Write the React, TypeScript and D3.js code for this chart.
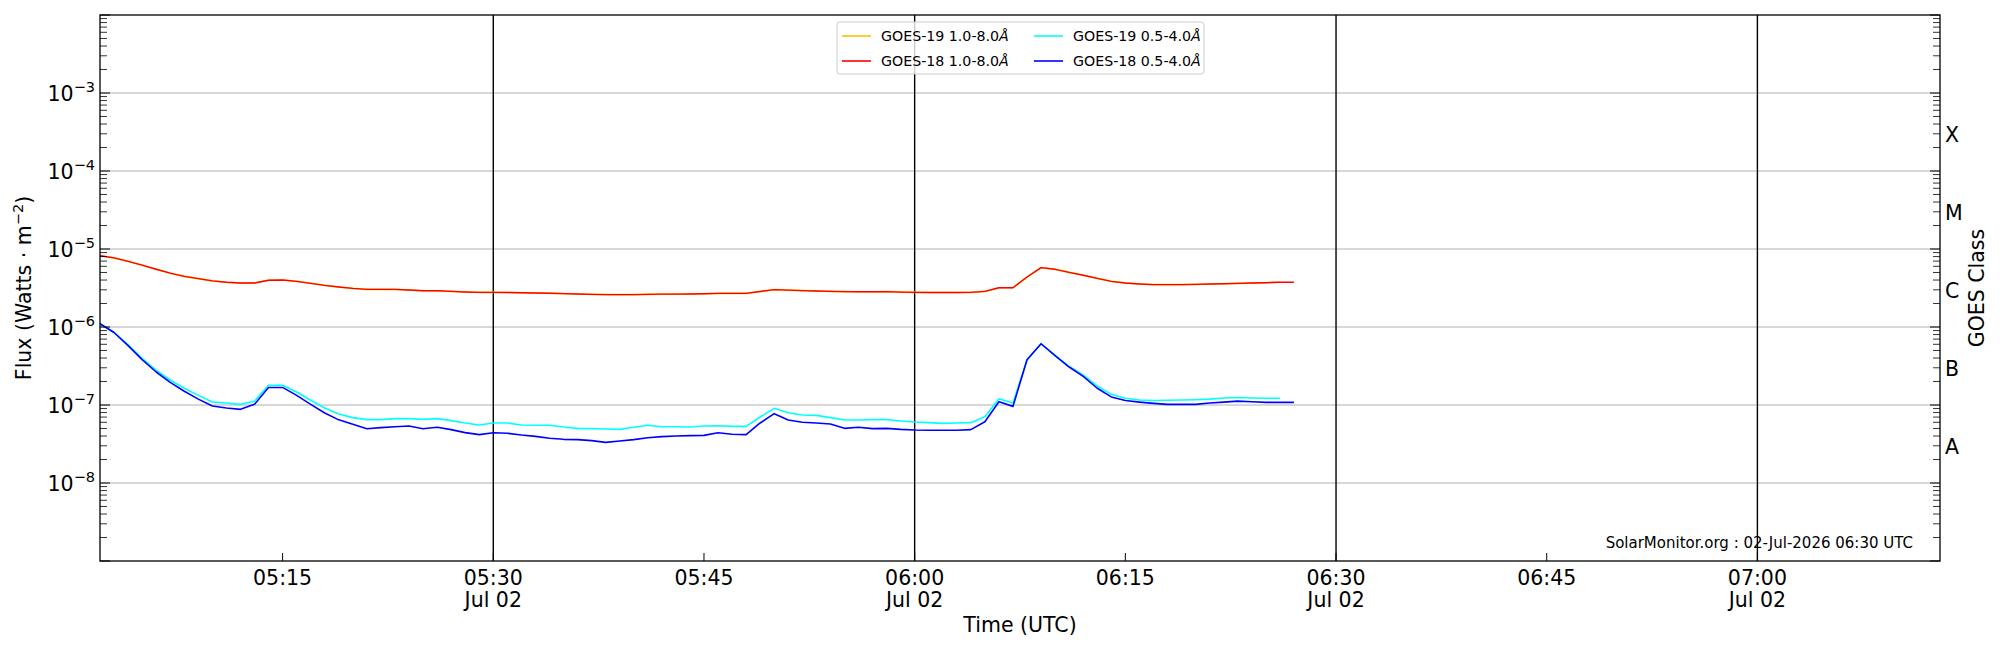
import React from "react";
import * as d3 from "d3";

// one sample per minute from 05:02 UTC, 02 Jul 2026
const startTime = new Date(Date.UTC(2026, 6, 2, 5, 2));
const xStart = new Date(Date.UTC(2026, 6, 2, 5, 2));
const xEnd = new Date(Date.UTC(2026, 6, 2, 7, 13));

const goes19Long = [
  8.2e-6, 7.7e-6, 6.95e-6, 6.2e-6, 5.5e-6, 4.9e-6, 4.46e-6, 4.17e-6, 3.9e-6, 3.74e-6,
  3.66e-6, 3.66e-6, 3.97e-6, 4.0e-6, 3.85e-6, 3.63e-6, 3.42e-6, 3.26e-6, 3.13e-6, 3.04e-6,
  3.04e-6, 3.04e-6, 2.98e-6, 2.92e-6, 2.92e-6, 2.86e-6, 2.81e-6, 2.78e-6, 2.78e-6, 2.77e-6,
  2.75e-6, 2.73e-6, 2.71e-6, 2.68e-6, 2.65e-6, 2.62e-6, 2.6e-6, 2.6e-6, 2.6e-6, 2.62e-6,
  2.64e-6, 2.64e-6, 2.65e-6, 2.67e-6, 2.7e-6, 2.7e-6, 2.7e-6, 2.85e-6, 3.01e-6, 2.97e-6,
  2.93e-6, 2.9e-6, 2.86e-6, 2.84e-6, 2.83e-6, 2.83e-6, 2.84e-6, 2.8e-6, 2.78e-6, 2.77e-6,
  2.77e-6, 2.77e-6, 2.78e-6, 2.86e-6, 3.19e-6, 3.19e-6, 4.37e-6, 5.77e-6, 5.49e-6, 5.02e-6,
  4.6e-6, 4.2e-6, 3.85e-6, 3.66e-6, 3.56e-6, 3.49e-6, 3.49e-6, 3.49e-6, 3.52e-6, 3.56e-6,
  3.59e-6, 3.62e-6, 3.66e-6, 3.7e-6, 3.74e-6,
];

const goes18Long = [
  8.2e-6, 7.7e-6, 6.95e-6, 6.2e-6, 5.5e-6, 4.9e-6, 4.46e-6, 4.17e-6, 3.9e-6, 3.74e-6,
  3.66e-6, 3.66e-6, 3.97e-6, 4.0e-6, 3.85e-6, 3.63e-6, 3.42e-6, 3.26e-6, 3.13e-6, 3.04e-6,
  3.04e-6, 3.04e-6, 2.98e-6, 2.92e-6, 2.92e-6, 2.86e-6, 2.81e-6, 2.78e-6, 2.78e-6, 2.77e-6,
  2.75e-6, 2.73e-6, 2.71e-6, 2.68e-6, 2.65e-6, 2.62e-6, 2.6e-6, 2.6e-6, 2.6e-6, 2.62e-6,
  2.64e-6, 2.64e-6, 2.65e-6, 2.67e-6, 2.7e-6, 2.7e-6, 2.7e-6, 2.85e-6, 3.01e-6, 2.97e-6,
  2.93e-6, 2.9e-6, 2.86e-6, 2.84e-6, 2.83e-6, 2.83e-6, 2.84e-6, 2.8e-6, 2.78e-6, 2.77e-6,
  2.77e-6, 2.77e-6, 2.78e-6, 2.86e-6, 3.19e-6, 3.19e-6, 4.37e-6, 5.77e-6, 5.49e-6, 5.02e-6,
  4.6e-6, 4.2e-6, 3.85e-6, 3.66e-6, 3.56e-6, 3.49e-6, 3.49e-6, 3.49e-6, 3.52e-6, 3.56e-6,
  3.59e-6, 3.62e-6, 3.66e-6, 3.7e-6, 3.74e-6, 3.74e-6,
];

const goes19Short = [
  1.1e-6, 8.5e-7, 5.9e-7, 3.97e-7, 2.79e-7, 2.09e-7, 1.64e-7, 1.33e-7, 1.09e-7, 1.06e-7,
  1.02e-7, 1.12e-7, 1.79e-7, 1.79e-7, 1.47e-7, 1.15e-7, 9.16e-8, 7.67e-8, 6.89e-8, 6.49e-8,
  6.49e-8, 6.68e-8, 6.68e-8, 6.55e-8, 6.68e-8, 6.3e-8, 5.88e-8, 5.54e-8, 5.88e-8, 5.88e-8,
  5.54e-8, 5.49e-8, 5.49e-8, 5.22e-8, 5.02e-8, 4.98e-8, 4.92e-8, 4.87e-8, 5.18e-8, 5.49e-8,
  5.27e-8, 5.27e-8, 5.22e-8, 5.38e-8, 5.43e-8, 5.32e-8, 5.32e-8, 7.01e-8, 9.06e-8, 7.97e-8,
  7.45e-8, 7.37e-8, 6.89e-8, 6.43e-8, 6.43e-8, 6.49e-8, 6.49e-8, 6.24e-8, 6.05e-8, 5.94e-8,
  5.82e-8, 5.88e-8, 5.94e-8, 7.08e-8, 1.2e-7, 1.06e-7, 3.81e-7, 6.1e-7, 4.29e-7, 3.13e-7,
  2.43e-7, 1.75e-7, 1.37e-7, 1.22e-7, 1.16e-7, 1.14e-7, 1.15e-7, 1.16e-7, 1.17e-7, 1.19e-7,
  1.23e-7, 1.25e-7, 1.23e-7, 1.22e-7, 1.22e-7,
];

const goes18Short = [
  1.1e-6, 8.5e-7, 5.77e-7, 3.81e-7, 2.65e-7, 1.95e-7, 1.5e-7, 1.19e-7, 9.7e-8, 9.16e-8,
  8.8e-8, 1.02e-7, 1.68e-7, 1.68e-7, 1.33e-7, 1.02e-7, 7.9e-8, 6.45e-8, 5.65e-8, 4.97e-8,
  5.13e-8, 5.27e-8, 5.37e-8, 4.97e-8, 5.18e-8, 4.83e-8, 4.42e-8, 4.17e-8, 4.4e-8, 4.34e-8,
  4.12e-8, 3.96e-8, 3.74e-8, 3.63e-8, 3.6e-8, 3.49e-8, 3.32e-8, 3.45e-8, 3.6e-8, 3.81e-8,
  3.93e-8, 4.01e-8, 4.05e-8, 4.08e-8, 4.41e-8, 4.21e-8, 4.17e-8, 5.88e-8, 7.74e-8, 6.43e-8,
  6.0e-8, 5.88e-8, 5.7e-8, 5.02e-8, 5.18e-8, 4.98e-8, 5.02e-8, 4.87e-8, 4.78e-8, 4.74e-8,
  4.74e-8, 4.74e-8, 4.83e-8, 6.11e-8, 1.1e-7, 9.6e-8, 3.81e-7, 6.1e-7, 4.29e-7, 3.07e-7,
  2.33e-7, 1.64e-7, 1.27e-7, 1.14e-7, 1.09e-7, 1.05e-7, 1.02e-7, 1.02e-7, 1.02e-7, 1.06e-7,
  1.09e-7, 1.12e-7, 1.1e-7, 1.08e-7, 1.08e-7, 1.08e-7,
];

const decadeExponents = [-3, -4, -5, -6, -7, -8];
const goesClasses = ["A", "B", "C", "M", "X"];
const footerText = "SolarMonitor.org : 02-Jul-2026 06:30 UTC";

const series = [
  { name: "GOES-19 1.0-8.0", values: goes19Long, color: "#ffbf00" },
  { name: "GOES-18 1.0-8.0", values: goes18Long, color: "#ff0000" },
  { name: "GOES-19 0.5-4.0", values: goes19Short, color: "#00ffff" },
  { name: "GOES-18 0.5-4.0", values: goes18Short, color: "#0000ff" },
];

const W = 2000;
const H = 650;
const margin = { top: 15, right: 60, bottom: 89, left: 100 };
const font = "DejaVu Sans, sans-serif";
const labelSize = 20.5;
const supSize = 14.5;

export default function App() {
  const x = d3.scaleUtc().domain([xStart, xEnd]).range([margin.left, W - margin.right]);
  const y = d3.scaleLog().domain([1e-9, 1e-2]).range([H - margin.bottom, margin.top]);
  const x0 = margin.left;
  const x1 = W - margin.right;
  const y0 = H - margin.bottom;
  const y1 = margin.top;

  const timeAt = (i: number) => d3.utcMinute.offset(startTime, i);
  const line = d3
    .line<number>()
    .x((_, i) => x(timeAt(i)))
    .y((d) => y(d));

  const xTicks = d3.utcMinute.every(15)!.range(xStart, xEnd);
  const fmt = d3.utcFormat("%H:%M");
  const isHalfHour = (t: Date) => t.getUTCMinutes() % 30 === 0;

  const majorY = d3.range(-9, -1).map((e) => Math.pow(10, e));
  const minorY: number[] = [];
  for (let e = -9; e < -2; e++) {
    for (let m = 2; m <= 9; m++) minorY.push(m * Math.pow(10, e));
  }

  const legendX = 837;
  const legendY = 22;
  const legendRows = [
    [series[0], series[1]],
    [series[2], series[3]],
  ];

  return (
    <svg
      width={W}
      height={H}
      style={{ position: "absolute", left: 0, top: 0, background: "#fff" }}
      fontFamily={font}
    >
      <defs>
        <clipPath id="plot">
          <rect x={x0} y={y1} width={x1 - x0} height={y0 - y1} />
        </clipPath>
      </defs>

      {/* horizontal grid at decades */}
      {decadeExponents.map((e) => (
        <line
          key={e}
          x1={x0}
          x2={x1}
          y1={y(Math.pow(10, e))}
          y2={y(Math.pow(10, e))}
          stroke="#b0b0b0"
          strokeWidth={1}
        />
      ))}

      {/* black lines every half hour */}
      {xTicks.filter(isHalfHour).map((t) => (
        <line
          key={+t}
          x1={x(t)}
          x2={x(t)}
          y1={y1}
          y2={y0}
          stroke="#000"
          strokeWidth={1.4}
        />
      ))}

      <g clipPath="url(#plot)">
        {series.map((s) => (
          <path
            key={s.name}
            d={line(s.values) || ""}
            fill="none"
            stroke={s.color}
            strokeWidth={s.color === "#ff0000" ? 1.4 : 1.6}
            strokeLinejoin="round"
          />
        ))}
      </g>

      {/* ticks, inward */}
      {majorY.map((v) => (
        <g key={v}>
          <line x1={x0} x2={x0 + 10} y1={y(v)} y2={y(v)} stroke="#000" />
          <line x1={x1} x2={x1 - 10} y1={y(v)} y2={y(v)} stroke="#000" />
        </g>
      ))}
      {minorY.map((v) => (
        <g key={v}>
          <line x1={x0} x2={x0 + 7} y1={y(v)} y2={y(v)} stroke="#000" strokeWidth={0.8} />
          <line x1={x1} x2={x1 - 7} y1={y(v)} y2={y(v)} stroke="#000" strokeWidth={0.8} />
        </g>
      ))}
      {xTicks.map((t) => (
        <line key={+t} x1={x(t)} x2={x(t)} y1={y0} y2={y0 - 8} stroke="#000" />
      ))}

      {/* frame */}
      <rect x={x0} y={y1} width={x1 - x0} height={y0 - y1} fill="none" stroke="#000" strokeWidth={1.3} />

      {/* y tick labels */}
      {decadeExponents.map((e) => (
        <text key={e} x={x0 - 5} y={y(Math.pow(10, e)) + 8} textAnchor="end" fontSize={labelSize}>
          10
          <tspan fontSize={supSize} dy={-9}>
            {"\u2212" + Math.abs(e)}
          </tspan>
        </text>
      ))}

      {/* x tick labels */}
      {xTicks.map((t) => (
        <text key={+t} x={x(t)} y={585} textAnchor="middle" fontSize={labelSize}>
          {fmt(t)}
          {isHalfHour(t) && (
            <tspan x={x(t)} dy={22}>
              Jul 02
            </tspan>
          )}
        </text>
      ))}

      {/* GOES class labels on the right */}
      {goesClasses.map((c, i) => (
        <text key={c} x={x1 + 5} y={y(Math.pow(10, -7.5 + i)) + 10} fontSize={labelSize}>
          {c}
        </text>
      ))}

      <text
        transform={`translate(${W - 16},${(y0 + y1) / 2}) rotate(-90)`}
        textAnchor="middle"
        fontSize={labelSize}
      >
        GOES Class
      </text>

      <text
        transform={`translate(31,${(y0 + y1) / 2}) rotate(-90)`}
        textAnchor="middle"
        fontSize={labelSize}
      >
        Flux (Watts · m
        <tspan fontSize={supSize} dy={-8}>
          −2
        </tspan>
        <tspan dy={8}>)</tspan>
      </text>

      <text x={(x0 + x1) / 2} y={632} textAnchor="middle" fontSize={labelSize}>
        Time (UTC)
      </text>

      <text x={1913} y={548} textAnchor="end" fontSize={15}>
        {footerText}
      </text>

      {/* legend */}
      <rect
        x={legendX}
        y={legendY}
        width={367}
        height={52}
        rx={3}
        fill="#fff"
        fillOpacity={0.8}
        stroke="#cccccc"
      />
      {legendRows.map((col, ci) =>
        col.map((s, ri) => {
          const lx = legendX + 5 + ci * 192;
          const ly = legendY + 14 + ri * 25;
          return (
            <g key={s.name}>
              <line x1={lx} x2={lx + 29} y1={ly} y2={ly} stroke={s.color} strokeWidth={1.6} />
              <text x={lx + 39} y={ly + 5} fontSize={14.2}>
                {s.name}
                <tspan fontStyle="italic">Å</tspan>
              </text>
            </g>
          );
        })
      )}
    </svg>
  );
}
